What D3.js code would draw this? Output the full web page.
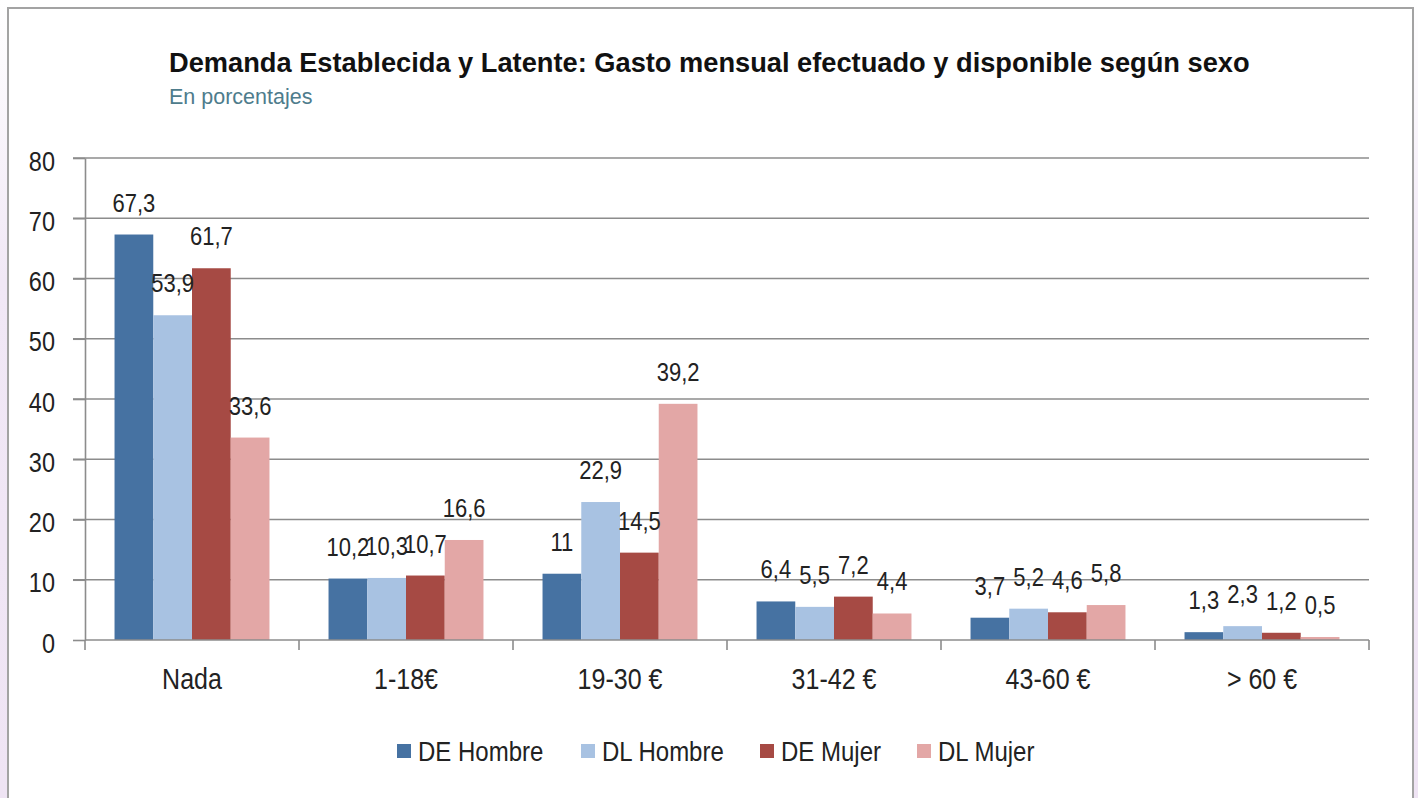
<!DOCTYPE html>
<html>
<head>
<meta charset="utf-8">
<script src="https://cdn.jsdelivr.net/npm/d3@7"></script>
<style>
  html, body { margin: 0; padding: 0; background: #ffffff; }
  svg { display: block; }
  text { font-family: "Liberation Sans", Arial, Helvetica, sans-serif; }
</style>
</head>
<body>
<svg id="chart" width="1418" height="798"></svg>
<script>
// ---- Data ----
const categories = ["Nada", "1-18€", "19-30 €", "31-42 €", "43-60 €", "> 60 €"];
const seriesNames = ["DE Hombre", "DL Hombre", "DE Mujer", "DL Mujer"];
const deHombre = [67.3, 10.2, 11, 6.4, 3.7, 1.3];
const dlHombre = [53.9, 10.3, 22.9, 5.5, 5.2, 2.3];
const deMujer  = [61.7, 10.7, 14.5, 7.2, 4.6, 1.2];
const dlMujer  = [33.6, 16.6, 39.2, 4.4, 5.8, 0.5];
const yTicks = [0, 10, 20, 30, 40, 50, 60, 70, 80];
const seriesColors = ["#4672a2", "#a8c2e2", "#a64a44", "#e3a7a6"];

const titleText = "Demanda Establecida y Latente: Gasto mensual efectuado y disponible según sexo";
const subtitleText = "En porcentajes";

const seriesValues = [deHombre, dlHombre, deMujer, dlMujer];

// ---- Layout ----
const svg = d3.select("#chart");
const W = 1418, H = 798;
const plotLeft = 85, plotRight = 1369, plotTop = 158, plotBottom = 640;
const stretch = "scale(1,1.15)";

// faint lavender edges outside the frame
const defs = svg.append("defs");
const lg = defs.append("linearGradient").attr("id", "edgeGrad").attr("x1", 0).attr("y1", 0).attr("x2", 0).attr("y2", 1);
lg.append("stop").attr("offset", "0%").attr("stop-color", "#ffffff");
lg.append("stop").attr("offset", "35%").attr("stop-color", "#f1e8f6");
lg.append("stop").attr("offset", "100%").attr("stop-color", "#efe4f4");
svg.append("rect").attr("x", 0).attr("y", 0).attr("width", 8).attr("height", H).attr("fill", "url(#edgeGrad)");
svg.append("rect").attr("x", 1413).attr("y", 0).attr("width", 5).attr("height", H).attr("fill", "url(#edgeGrad)");

// frame
svg.append("rect")
  .attr("x", 8).attr("y", 8).attr("width", 1405).attr("height", 820)
  .attr("fill", "#ffffff").attr("stroke", "#a3a3a3").attr("stroke-width", 2);

// ---- Title ----
const title = svg.append("text")
  .attr("x", 169).attr("y", 72)
  .attr("font-size", 26).attr("font-weight", "bold").attr("fill", "#111111")
  .text(titleText);
{
  const len = title.node().getComputedTextLength();
  const target = 1081;
  if (Math.abs(len - target) / target > 0.015) {
    title.attr("font-size", 26 * target / len);
  }
}
svg.append("text")
  .attr("x", 169).attr("y", 104)
  .attr("font-size", 21.5).attr("fill", "#4e7c8c")
  .text(subtitleText);

// ---- Scales ----
const x0 = d3.scaleBand().domain(categories).range([plotLeft, plotRight])
  .paddingInner(0.276).paddingOuter(0.138);
const x1 = d3.scaleBand().domain(seriesNames).range([0, x0.bandwidth()]).padding(0);
const y = d3.scaleLinear().domain([0, 80]).range([plotBottom, plotTop]);

// ---- Gridlines ----
svg.append("g").selectAll("line").data(yTicks.filter(t => t !== 0)).join("line")
  .attr("x1", plotLeft - 12).attr("x2", plotRight)
  .attr("y1", d => y(d)).attr("y2", d => y(d))
  .attr("stroke", "#8c8c8c").attr("stroke-width", 1.6);

// ---- Y axis ----
const yAxis = svg.append("g").attr("transform", `translate(${plotLeft},0)`)
  .call(d3.axisLeft(y).tickValues(yTicks).tickSize(12).tickSizeOuter(0).tickPadding(18).tickFormat(d3.format("d")));
yAxis.select(".domain").attr("stroke", "#8c8c8c").attr("stroke-width", 1.6);
yAxis.selectAll(".tick line").attr("stroke", "#8c8c8c").attr("stroke-width", 1.6);
yAxis.selectAll(".tick text")
  .attr("font-size", 23.5).attr("fill", "#222222")
  .attr("font-family", "Liberation Sans, Arial, sans-serif")
  .attr("dy", "0.45em").attr("transform", stretch);

// ---- Bars ----
const groups = svg.append("g").selectAll("g").data(categories).join("g")
  .attr("transform", c => `translate(${x0(c)},0)`);

groups.selectAll("rect")
  .data((c, i) => seriesNames.map((s, j) => ({ s, j, v: seriesValues[j][i] })))
  .join("rect")
  .attr("x", d => x1(d.s))
  .attr("width", x1.bandwidth())
  .attr("y", d => y(d.v))
  .attr("height", d => y(0) - y(d.v))
  .attr("fill", d => seriesColors[d.j]);

// ---- Data labels ----
const fmt = v => String(v).replace(".", ",");
groups.selectAll("text.lbl")
  .data((c, i) => seriesNames.map((s, j) => ({ s, j, v: seriesValues[j][i] })))
  .join("text")
  .attr("class", "lbl")
  .attr("transform", d => `translate(${x1(d.s) + x1.bandwidth() / 2},${y(d.v) - 23}) ${stretch}`)
  .attr("text-anchor", "middle")
  .attr("font-size", 22).attr("fill", "#222222")
  .text(d => fmt(d.v));

// ---- X axis ----
const xAxisG = svg.append("g");
xAxisG.append("line")
  .attr("x1", plotLeft).attr("x2", plotRight)
  .attr("y1", plotBottom).attr("y2", plotBottom)
  .attr("stroke", "#8c8c8c").attr("stroke-width", 1.6);
const boundaries = d3.range(categories.length + 1).map(i => x0.range()[0] + i * x0.step());
xAxisG.selectAll("line.bt").data(boundaries).join("line")
  .attr("class", "bt")
  .attr("x1", d => d).attr("x2", d => d)
  .attr("y1", plotBottom).attr("y2", plotBottom + 10)
  .attr("stroke", "#8c8c8c").attr("stroke-width", 1.6);
xAxisG.selectAll("text").data(categories).join("text")
  .attr("transform", c => `translate(${x0(c) + x0.bandwidth() / 2},689) ${stretch}`)
  .attr("text-anchor", "middle")
  .attr("font-size", 25).attr("fill", "#222222")
  .text(c => c);

// ---- Legend ----
const legendX = [397, 581, 760, 917];
const leg = svg.append("g").selectAll("g").data(seriesNames).join("g")
  .attr("transform", (d, i) => `translate(${legendX[i]},744)`);
leg.append("rect").attr("x", 0).attr("y", 0).attr("width", 14).attr("height", 14)
  .attr("fill", (d, i) => seriesColors[i]);
leg.append("text")
  .attr("transform", `translate(21,17) ${stretch}`)
  .attr("font-size", 24).attr("fill", "#222222")
  .text(d => d);
</script>
</body>
</html>
